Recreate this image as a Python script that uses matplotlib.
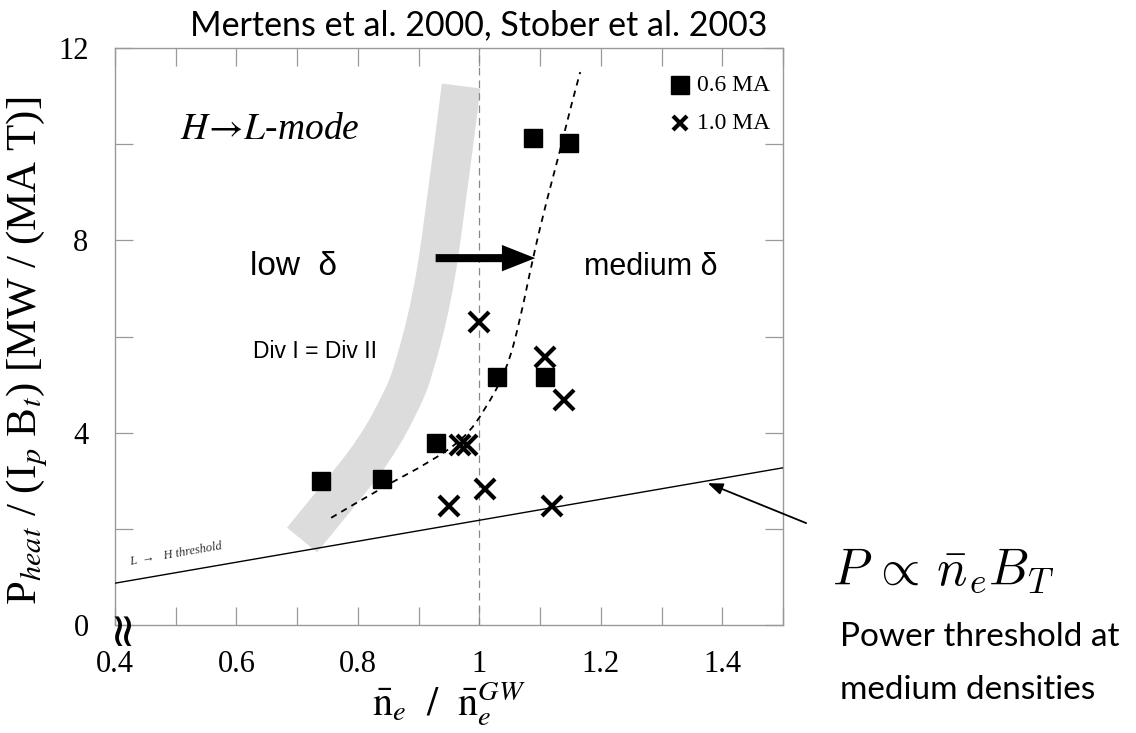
import numpy as np
import matplotlib
matplotlib.use("Agg")
import matplotlib.pyplot as plt
from matplotlib.path import Path
from matplotlib.patches import PathPatch
from matplotlib.ticker import MultipleLocator

# ---- data ----
sq_x = [0.739, 0.840, 0.929, 1.029, 1.108, 1.089, 1.148]
sq_y = [3.00, 3.04, 3.79, 5.16, 5.16, 10.13, 10.02]

cr_x = [1.000, 1.108, 1.140, 0.968, 0.980, 0.950, 1.010, 1.120]
cr_y = [6.30, 5.57, 4.68, 3.74, 3.74, 2.47, 2.83, 2.47]

# L -> H threshold line (end points)
thr_x = [0.4, 1.5]
thr_y = [0.87, 3.27]

# dashed guide curve
fit_x = [0.756, 0.841, 0.919, 0.976, 1.009, 1.045, 1.067, 1.088, 1.111, 1.132, 1.149, 1.166]
fit_y = [2.23, 2.87, 3.39, 3.89, 4.47, 5.30, 6.34, 7.63, 8.84, 9.82, 10.71, 11.50]

# grey band (low delta)
band_x = [0.708, 0.762, 0.828, 0.873, 0.892, 0.922, 0.942, 0.970]
band_y = [1.77, 2.60, 3.64, 4.68, 5.30, 6.76, 8.42, 11.21]

serif = "Liberation Serif"
sans = "Liberation Sans"


def smooth_path(xs, ys):
    # quadratic bezier through midpoints, the read points act as control points
    verts = [(xs[0], ys[0])]
    codes = [Path.MOVETO]
    for i in range(1, len(xs) - 1):
        mx = (xs[i] + xs[i + 1]) / 2
        my = (ys[i] + ys[i + 1]) / 2
        if i == len(xs) - 2:
            mx, my = xs[-1], ys[-1]
        verts += [(xs[i], ys[i]), (mx, my)]
        codes += [Path.CURVE3, Path.CURVE3]
    return Path(verts, codes)


fig = plt.figure(figsize=(11.36, 7.33), dpi=100)
ax = fig.add_axes([0.1012, 0.1473, 0.5881, 0.7872])

ax.add_patch(PathPatch(smooth_path(band_x, band_y), fill=False, edgecolor="#dcdcdc",
                       lw=28, capstyle="butt", joinstyle="round", zorder=1))
ax.axvline(1.0, color="#888888", lw=0.9, ls=(0, (6, 4)), zorder=2)
ax.plot(thr_x, thr_y, color="k", lw=1.0, zorder=3)
ax.add_patch(PathPatch(smooth_path(fit_x, fit_y), fill=False, edgecolor="k",
                       lw=1.3, ls=(0, (3.5, 3)), zorder=3))

ax.plot(sq_x, sq_y, ls="none", marker="s", ms=13, color="k", zorder=4)
ax.plot(cr_x, cr_y, ls="none", marker="x", ms=14, mew=3, color="k", zorder=4)

# arrow low -> medium delta
ax.annotate("", xy=(1.092, 7.63), xytext=(0.928, 7.63),
            arrowprops=dict(arrowstyle="simple,head_length=1.2,head_width=0.95,tail_width=0.29",
                            mutation_scale=20, color="k", lw=0, shrinkA=0, shrinkB=0))

ax.set_xlim(0.4, 1.5)
ax.set_ylim(0, 12)
ax.xaxis.set_major_locator(MultipleLocator(0.2))
ax.xaxis.set_minor_locator(MultipleLocator(0.1))
ax.yaxis.set_major_locator(MultipleLocator(4))
ax.yaxis.set_minor_locator(MultipleLocator(2))
ax.tick_params(which="both", direction="in", length=13, width=0.9,
               color="#999999", top=True, right=True)
ax.tick_params(axis="x", pad=18)
ax.tick_params(axis="y", pad=19)
ax.set_xticks([0.4, 0.6, 0.8, 1.0, 1.2, 1.4])
ax.set_xticklabels(["0.4", "0.6", "0.8", "1", "1.2", "1.4"])
for lab in ax.get_xticklabels() + ax.get_yticklabels():
    lab.set_family(serif)
    lab.set_fontsize(22)
for s in ax.spines.values():
    s.set_color("#999999")
    s.set_linewidth(1.0)

ax.set_ylabel(r"P$_{heat}$ / (I$_p$ B$_t$) [MW / (MA T)]", family=serif,
              fontsize=31, math_fontfamily="stix")
ax.yaxis.set_label_coords(-0.097, 0.475)
ax.set_xlabel(r"$\bar{\mathrm{n}}_e\ \ /\ \ \bar{\mathrm{n}}_e^{GW}$", fontsize=29,
              math_fontfamily="stix", labelpad=0)

# text annotations inside the plot
ax.text(0.507, 10.3, r"$H\!\rightarrow\! L$-mode", family=serif, style="italic",
        fontsize=27, math_fontfamily="stix", va="center")
ax.text(0.623, 7.45, "low  δ", family=sans, fontsize=24, va="center")
ax.text(1.172, 7.45, "medium δ", family=sans, fontsize=22, va="center")
ax.text(0.627, 5.68, "Div I = Div II", family=sans, fontsize=16.5, va="center")
ax.text(0.425, 1.25, "L  →   H threshold", family=serif, style="italic",
        fontsize=9, rotation=9.8, rotation_mode="anchor", color="#333333")

# legend
ax.plot([1.331], [11.23], marker="s", ms=13, color="k", ls="none")
ax.plot([1.331], [10.44], marker="x", ms=10, mew=3, color="k", ls="none")
ax.text(1.358, 11.23, "0.6 MA", family=serif, fontsize=17, va="center")
ax.text(1.358, 10.44, "1.0 MA", family=serif, fontsize=17, va="center")

# axis break mark
ax.text(0.412, 0.0, "≈", rotation=90, fontsize=34, family="DejaVu Sans",
        ha="center", va="center", clip_on=False)

# pointer to threshold line
ax.annotate("", xy=(1.376, 2.95), xytext=(1.538, 2.12),
            arrowprops=dict(arrowstyle="-|>,head_length=0.9,head_width=0.35",
                            color="k", lw=1.3, shrinkA=0, shrinkB=0),
            annotation_clip=False)

fig.text(0.421, 0.966, "Mertens et al. 2000, Stober et al. 2003", family="Lato",
         fontsize=24.5, ha="center", va="center")
fig.text(0.732, 0.222, r"$P\,\propto\,\bar{n}_e B_T$", fontsize=36.5,
         math_fontfamily="cm", va="center")
fig.text(0.739, 0.131, "Power threshold at", family="Lato", fontsize=24, va="center")
fig.text(0.739, 0.0586, "medium densities", family="Lato", fontsize=24, va="center")

fig.savefig("out.png", dpi=100)
